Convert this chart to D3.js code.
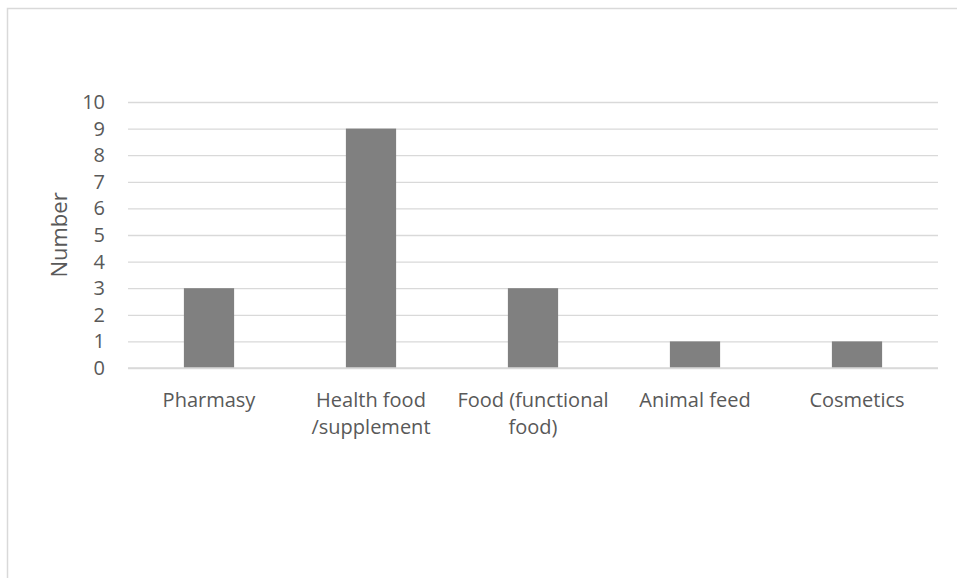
<!DOCTYPE html>
<html>
<head>
<meta charset="utf-8">
<script src="https://cdn.jsdelivr.net/npm/d3@7"></script>
<style>
  body { margin: 0; background: #fff; }
  svg { display: block; }
  text { font-family: "Open Sans", "Noto Sans", sans-serif; fill: #595959; }
</style>
</head>
<body>
<svg width="957" height="578"></svg>
<script>
const categories = [['Pharmasy'], ['Health food', '/supplement'], ['Food (functional', 'food)'], ['Animal feed'], ['Cosmetics']];
const values = [3, 9, 3, 1, 1];
const yTicks = [0, 1, 2, 3, 4, 5, 6, 7, 8, 9, 10];

const svg = d3.select('svg');
const margin = { top: 102, right: 19, bottom: 210, left: 128 };
const width = +svg.attr('width') - margin.left - margin.right;
const height = +svg.attr('height') - margin.top - margin.bottom;

// outer chart border (image is cropped at right/bottom)
svg.append('rect')
  .attr('x', 7.5).attr('y', 8.5)
  .attr('width', 1000).attr('height', 1000)
  .attr('fill', 'none').attr('stroke', '#d9d9d9').attr('stroke-width', 1.5);

const g = svg.append('g').attr('transform', `translate(${margin.left},${margin.top})`);

const x = d3.scaleBand().domain(d3.range(categories.length)).range([0, width]);
const y = d3.scaleLinear().domain([0, 10]).range([height, 0]);

// gridlines
g.append('g')
  .call(d3.axisLeft(y).tickValues(yTicks).tickSize(-width).tickFormat(''))
  .call(a => a.select('.domain').remove())
  .call(a => a.selectAll('line').attr('stroke', '#d9d9d9').attr('stroke-width', 1.3));

// y tick labels
g.append('g')
  .attr('transform', 'translate(-23,0)')
  .call(d3.axisLeft(y).tickValues(yTicks).tickSize(0).tickPadding(0))
  .call(a => a.select('.domain').remove())
  .call(a => a.selectAll('text').style('font-size', '20px').attr('fill', '#595959'));

// bars
const barW = x.bandwidth() * 0.31;
g.selectAll('.bar')
  .data(values)
  .join('rect')
  .attr('class', 'bar')
  .attr('x', (d, i) => x(i) + (x.bandwidth() - barW) / 2)
  .attr('y', d => y(d))
  .attr('width', barW)
  .attr('height', d => y(0) - y(d))
  .attr('fill', '#808080');

// baseline
g.append('line')
  .attr('x1', 0).attr('x2', width)
  .attr('y1', y(0)).attr('y2', y(0))
  .attr('stroke', '#d9d9d9').attr('stroke-width', 1.5);

// category labels
const lbl = g.selectAll('.cat')
  .data(categories)
  .join('text')
  .attr('class', 'cat')
  .attr('text-anchor', 'middle')
  .style('font-size', '20px')
  .attr('x', (d, i) => x(i) + x.bandwidth() / 2)
  .attr('y', height + 39);
lbl.selectAll('tspan')
  .data(d => d)
  .join('tspan')
  .attr('x', function () { return d3.select(this.parentNode).attr('x'); })
  .attr('dy', (d, i) => i === 0 ? 0 : 27)
  .text(d => d);

// y axis title
svg.append('text')
  .attr('transform', `translate(67,${margin.top + height / 2}) rotate(-90)`)
  .attr('text-anchor', 'middle')
  .style('font-size', '22px')
  .text('Number');
</script>
</body>
</html>
